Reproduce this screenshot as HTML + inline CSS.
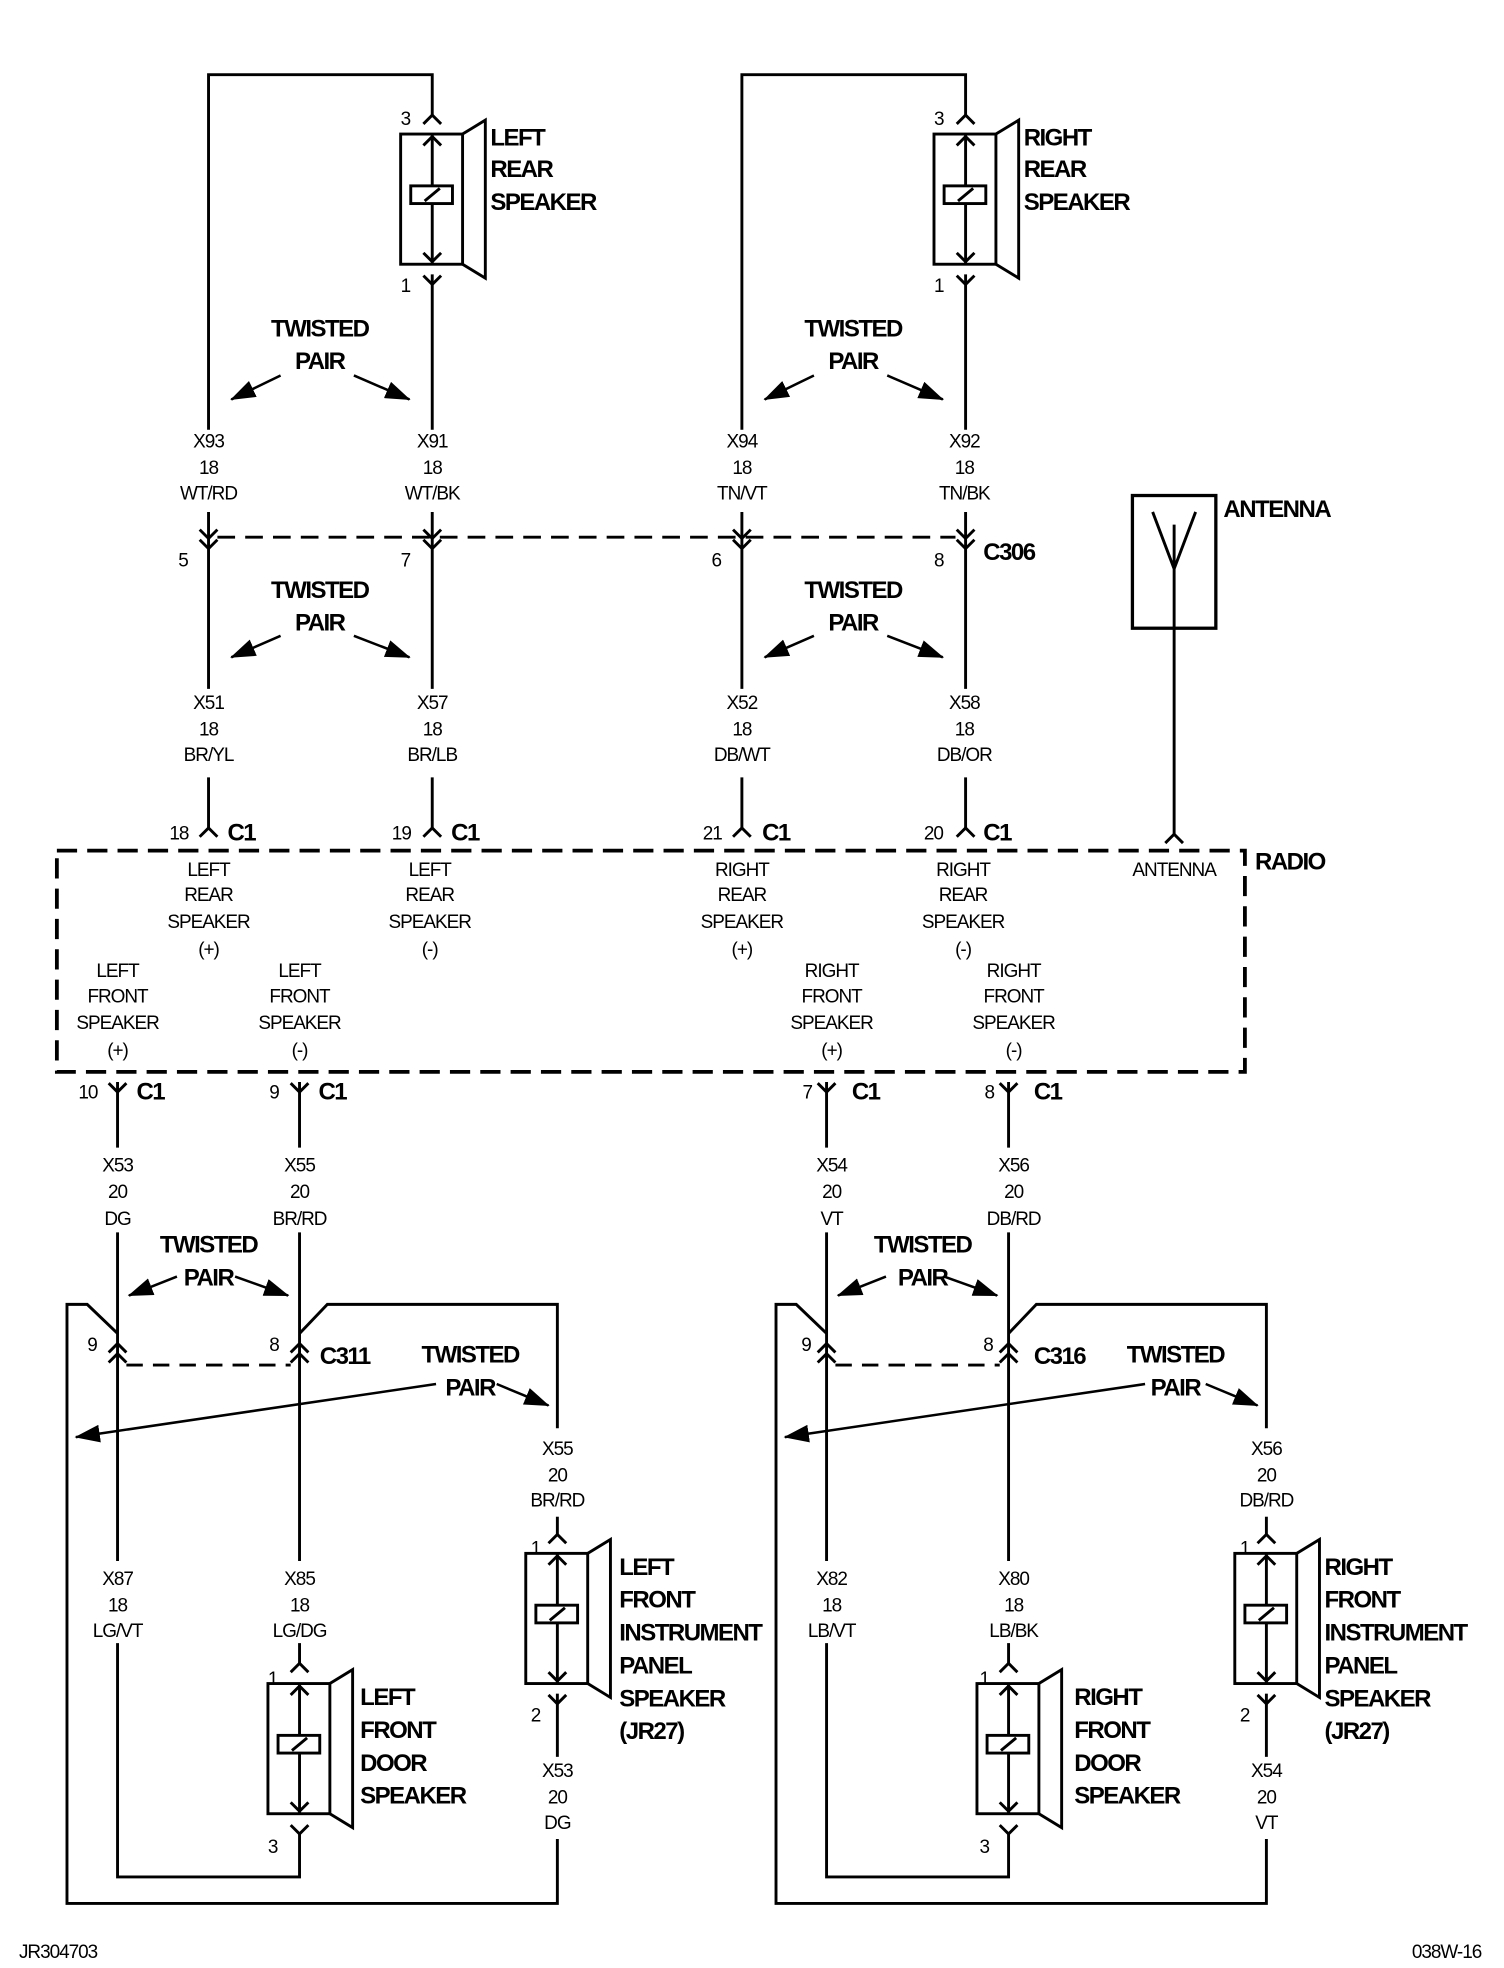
<!DOCTYPE html>
<html><head><meta charset="utf-8"><style>
html,body{margin:0;padding:0;background:#fff;}
svg{display:block;}
.b{font-family:"Liberation Sans Narrow","Liberation Sans",sans-serif;font-weight:bold;font-size:19px;letter-spacing:-1.2px;fill:#000;}
.r{font-family:"Liberation Sans Narrow","Liberation Sans",sans-serif;font-size:15px;letter-spacing:-0.8px;fill:#000;}
.m{text-anchor:middle;}
</style></head><body>
<svg width="1504" height="1968" viewBox="0 0 1190 1557" xmlns="http://www.w3.org/2000/svg">
<defs>
<marker id="ah2" markerWidth="20" markerHeight="14" refX="19" refY="7" orient="auto" markerUnits="userSpaceOnUse" viewBox="0 0 20 14"><path d="M0,0 L20,7 L0,14 z" fill="#000"/></marker>
<g id="spk" fill="none" stroke="#000" stroke-width="2.3">
 <rect x="-25" y="0" width="49" height="103"/>
 <path d="M24,0 L42,-11 L42,114 L24,103"/>
 <path d="M0,0 V103"/>
 <path d="M-7,9 L0,2 L7,9 M-7,94 L0,101 L7,94"/>
 <rect x="-17" y="41" width="33" height="14" fill="#fff"/>
 <path d="M-6,53 L6,43"/>
</g>
<path id="cu" d="M-7,7 L0,0 L7,7" fill="none" stroke="#000" stroke-width="2.3"/>
<path id="cd" d="M-7,-7 L0,0 L7,-7" fill="none" stroke="#000" stroke-width="2.3"/>
<g id="gTop" fill="none" stroke="#000" stroke-width="2.3">
 <path d="M165,340 V59 H342 V91"/>
 <use href="#cu" x="342" y="91"/>
 <use href="#spk" x="342" y="106"/>
 <path d="M342,217 V340"/>
 <use href="#cd" x="342" y="225"/>
 <path d="M222,297 L183,316" stroke-width="2" marker-end="url(#ah2)"/>
 <path d="M280,297 L324,316" stroke-width="2" marker-end="url(#ah2)"/>
 <path d="M165,405 V545 M342,405 V545"/>
 <use href="#cd" x="165" y="426"/><use href="#cd" x="165" y="434"/>
 <use href="#cd" x="342" y="426"/><use href="#cd" x="342" y="434"/>
 <path d="M222,503 L183,520" stroke-width="2" marker-end="url(#ah2)"/>
 <path d="M280,503 L324,520" stroke-width="2" marker-end="url(#ah2)"/>
 <path d="M165,615 V655 M342,615 V655"/>
 <use href="#cu" x="165" y="655"/><use href="#cu" x="342" y="655"/>
</g>
<g id="gBot" fill="none" stroke="#000" stroke-width="2.3">
 <use href="#cd" x="93" y="864"/><use href="#cd" x="237" y="864"/>
 <path d="M93,856 V908 M237,856 V908"/>
 <path d="M93,975 V1235 M237,975 V1235"/>
 <path d="M93,1300 V1485 H237 V1451"/>
 <path d="M237,1300 V1316"/>
 <use href="#cu" x="93" y="1063"/><use href="#cu" x="93" y="1071"/>
 <use href="#cu" x="237" y="1063"/><use href="#cu" x="237" y="1071"/>
 <path d="M441,1130 V1032 H259 L237,1055 M93,1055 L69,1032 H53 V1506 H441 V1455"/>
 <path d="M100,1080 H230" stroke-dasharray="13,8"/>
 <path d="M140,1010 L102,1025" stroke-width="2" marker-end="url(#ah2)"/>
 <path d="M186,1010 L228,1025" stroke-width="2" marker-end="url(#ah2)"/>
 <path d="M345,1095 L60,1137" stroke-width="2" marker-end="url(#ah2)"/>
 <path d="M393,1095 L434,1112" stroke-width="2" marker-end="url(#ah2)"/>
 <use href="#cu" x="237" y="1316"/>
 <use href="#spk" x="237" y="1332"/>
 <use href="#cd" x="237" y="1451"/>
 <path d="M441,1200 V1214"/>
 <use href="#cu" x="441" y="1214"/>
 <use href="#spk" x="441" y="1229"/>
 <path d="M441,1340 V1390"/>
 <use href="#cd" x="441" y="1348"/>
</g>
</defs>

<use href="#gTop"/>
<use href="#gTop" x="422"/>
<use href="#gBot"/>
<use href="#gBot" x="561"/>

<path d="M172,425 H756" fill="none" stroke="#000" stroke-width="2.3" stroke-dasharray="14,8"/>
<rect x="45" y="673" width="940" height="175" fill="none" stroke="#000" stroke-width="3" stroke-dasharray="16,8"/>
<rect x="896" y="392" width="66" height="105" fill="none" stroke="#000" stroke-width="2.6"/>
<path d="M929,415 V660 M929,450 L912,405 M929,450 L946,405" fill="none" stroke="#000" stroke-width="2.3"/>
<use href="#cu" x="929" y="660"/>

<text class="b" x="388" y="115">LEFT</text><text class="b" x="388" y="140">REAR</text><text class="b" x="388" y="166">SPEAKER</text>
<text class="b" x="810" y="115">RIGHT</text><text class="b" x="810" y="140">REAR</text><text class="b" x="810" y="166">SPEAKER</text>
<text class="r" x="317" y="99">3</text><text class="r" x="317" y="231">1</text>
<text class="r" x="739" y="99">3</text><text class="r" x="739" y="231">1</text>
<text class="b m" x="253" y="266">TWISTED</text><text class="b m" x="253" y="292">PAIR</text>
<text class="b m" x="675" y="266">TWISTED</text><text class="b m" x="675" y="292">PAIR</text>
<text class="b m" x="253" y="473">TWISTED</text><text class="b m" x="253" y="499">PAIR</text>
<text class="b m" x="675" y="473">TWISTED</text><text class="b m" x="675" y="499">PAIR</text>

<text class="r m" x="165" y="354">X93</text><text class="r m" x="165" y="375">18</text><text class="r m" x="165" y="395">WT/RD</text>
<text class="r m" x="342" y="354">X91</text><text class="r m" x="342" y="375">18</text><text class="r m" x="342" y="395">WT/BK</text>
<text class="r m" x="587" y="354">X94</text><text class="r m" x="587" y="375">18</text><text class="r m" x="587" y="395">TN/VT</text>
<text class="r m" x="763" y="354">X92</text><text class="r m" x="763" y="375">18</text><text class="r m" x="763" y="395">TN/BK</text>
<text class="r m" x="165" y="561">X51</text><text class="r m" x="165" y="582">18</text><text class="r m" x="165" y="602">BR/YL</text>
<text class="r m" x="342" y="561">X57</text><text class="r m" x="342" y="582">18</text><text class="r m" x="342" y="602">BR/LB</text>
<text class="r m" x="587" y="561">X52</text><text class="r m" x="587" y="582">18</text><text class="r m" x="587" y="602">DB/WT</text>
<text class="r m" x="763" y="561">X58</text><text class="r m" x="763" y="582">18</text><text class="r m" x="763" y="602">DB/OR</text>
<text class="r" x="141" y="448">5</text><text class="r" x="317" y="448">7</text><text class="r" x="563" y="448">6</text><text class="r" x="739" y="448">8</text>
<text class="b" x="778" y="443">C306</text>
<text class="b" x="968" y="409">ANTENNA</text>

<text class="r" x="134" y="664">18</text><text class="b" x="180" y="665">C1</text>
<text class="r" x="310" y="664">19</text><text class="b" x="357" y="665">C1</text>
<text class="r" x="556" y="664">21</text><text class="b" x="603" y="665">C1</text>
<text class="r" x="731" y="664">20</text><text class="b" x="778" y="665">C1</text>
<text class="b" x="993" y="688">RADIO</text>

<text class="r m" x="165" y="693">LEFT</text><text class="r m" x="165" y="713">REAR</text><text class="r m" x="165" y="734">SPEAKER</text><text class="r m" x="165" y="756">(+)</text>
<text class="r m" x="340" y="693">LEFT</text><text class="r m" x="340" y="713">REAR</text><text class="r m" x="340" y="734">SPEAKER</text><text class="r m" x="340" y="756">(-)</text>
<text class="r m" x="587" y="693">RIGHT</text><text class="r m" x="587" y="713">REAR</text><text class="r m" x="587" y="734">SPEAKER</text><text class="r m" x="587" y="756">(+)</text>
<text class="r m" x="762" y="693">RIGHT</text><text class="r m" x="762" y="713">REAR</text><text class="r m" x="762" y="734">SPEAKER</text><text class="r m" x="762" y="756">(-)</text>
<text class="r m" x="929" y="693">ANTENNA</text>
<text class="r m" x="93" y="773">LEFT</text><text class="r m" x="93" y="793">FRONT</text><text class="r m" x="93" y="814">SPEAKER</text><text class="r m" x="93" y="836">(+)</text>
<text class="r m" x="237" y="773">LEFT</text><text class="r m" x="237" y="793">FRONT</text><text class="r m" x="237" y="814">SPEAKER</text><text class="r m" x="237" y="836">(-)</text>
<text class="r m" x="658" y="773">RIGHT</text><text class="r m" x="658" y="793">FRONT</text><text class="r m" x="658" y="814">SPEAKER</text><text class="r m" x="658" y="836">(+)</text>
<text class="r m" x="802" y="773">RIGHT</text><text class="r m" x="802" y="793">FRONT</text><text class="r m" x="802" y="814">SPEAKER</text><text class="r m" x="802" y="836">(-)</text>

<text class="r" x="62" y="869">10</text><text class="b" x="108" y="870">C1</text>
<text class="r" x="213" y="869">9</text><text class="b" x="252" y="870">C1</text>
<text class="r" x="635" y="869">7</text><text class="b" x="674" y="870">C1</text>
<text class="r" x="779" y="869">8</text><text class="b" x="818" y="870">C1</text>

<text class="r m" x="93" y="927">X53</text><text class="r m" x="93" y="948">20</text><text class="r m" x="93" y="969">DG</text>
<text class="r m" x="237" y="927">X55</text><text class="r m" x="237" y="948">20</text><text class="r m" x="237" y="969">BR/RD</text>
<text class="r m" x="658" y="927">X54</text><text class="r m" x="658" y="948">20</text><text class="r m" x="658" y="969">VT</text>
<text class="r m" x="802" y="927">X56</text><text class="r m" x="802" y="948">20</text><text class="r m" x="802" y="969">DB/RD</text>

<text class="b m" x="165" y="991">TWISTED</text><text class="b m" x="165" y="1017">PAIR</text>
<text class="b m" x="730" y="991">TWISTED</text><text class="b m" x="730" y="1017">PAIR</text>
<text class="b m" x="372" y="1078">TWISTED</text><text class="b m" x="372" y="1104">PAIR</text>
<text class="b m" x="930" y="1078">TWISTED</text><text class="b m" x="930" y="1104">PAIR</text>

<text class="r" x="69" y="1069">9</text><text class="r" x="213" y="1069">8</text><text class="b" x="253" y="1079">C311</text>
<text class="r" x="634" y="1069">9</text><text class="r" x="778" y="1069">8</text><text class="b" x="818" y="1079">C316</text>

<text class="r m" x="441" y="1151">X55</text><text class="r m" x="441" y="1172">20</text><text class="r m" x="441" y="1192">BR/RD</text>
<text class="r m" x="1002" y="1151">X56</text><text class="r m" x="1002" y="1172">20</text><text class="r m" x="1002" y="1192">DB/RD</text>
<text class="r" x="420" y="1230">1</text><text class="r" x="420" y="1362">2</text>
<text class="r" x="981" y="1230">1</text><text class="r" x="981" y="1362">2</text>

<text class="b" x="490" y="1246">LEFT</text><text class="b" x="490" y="1272">FRONT</text><text class="b" x="490" y="1298">INSTRUMENT</text><text class="b" x="490" y="1324">PANEL</text><text class="b" x="490" y="1350">SPEAKER</text><text class="b" x="490" y="1376">(JR27)</text>
<text class="b" x="1048" y="1246">RIGHT</text><text class="b" x="1048" y="1272">FRONT</text><text class="b" x="1048" y="1298">INSTRUMENT</text><text class="b" x="1048" y="1324">PANEL</text><text class="b" x="1048" y="1350">SPEAKER</text><text class="b" x="1048" y="1376">(JR27)</text>

<text class="r m" x="93" y="1254">X87</text><text class="r m" x="93" y="1275">18</text><text class="r m" x="93" y="1295">LG/VT</text>
<text class="r m" x="237" y="1254">X85</text><text class="r m" x="237" y="1275">18</text><text class="r m" x="237" y="1295">LG/DG</text>
<text class="r m" x="658" y="1254">X82</text><text class="r m" x="658" y="1275">18</text><text class="r m" x="658" y="1295">LB/VT</text>
<text class="r m" x="802" y="1254">X80</text><text class="r m" x="802" y="1275">18</text><text class="r m" x="802" y="1295">LB/BK</text>

<text class="r" x="212" y="1333">1</text><text class="r" x="212" y="1466">3</text>
<text class="r" x="775" y="1333">1</text><text class="r" x="775" y="1466">3</text>
<text class="b" x="285" y="1349">LEFT</text><text class="b" x="285" y="1375">FRONT</text><text class="b" x="285" y="1401">DOOR</text><text class="b" x="285" y="1427">SPEAKER</text>
<text class="b" x="850" y="1349">RIGHT</text><text class="b" x="850" y="1375">FRONT</text><text class="b" x="850" y="1401">DOOR</text><text class="b" x="850" y="1427">SPEAKER</text>

<text class="r m" x="441" y="1406">X53</text><text class="r m" x="441" y="1427">20</text><text class="r m" x="441" y="1447">DG</text>
<text class="r m" x="1002" y="1406">X54</text><text class="r m" x="1002" y="1427">20</text><text class="r m" x="1002" y="1447">VT</text>

<text class="r" x="15" y="1549">JR304703</text>
<text class="r" x="1172" y="1549" text-anchor="end">038W-16</text>
</svg>
</body></html>
